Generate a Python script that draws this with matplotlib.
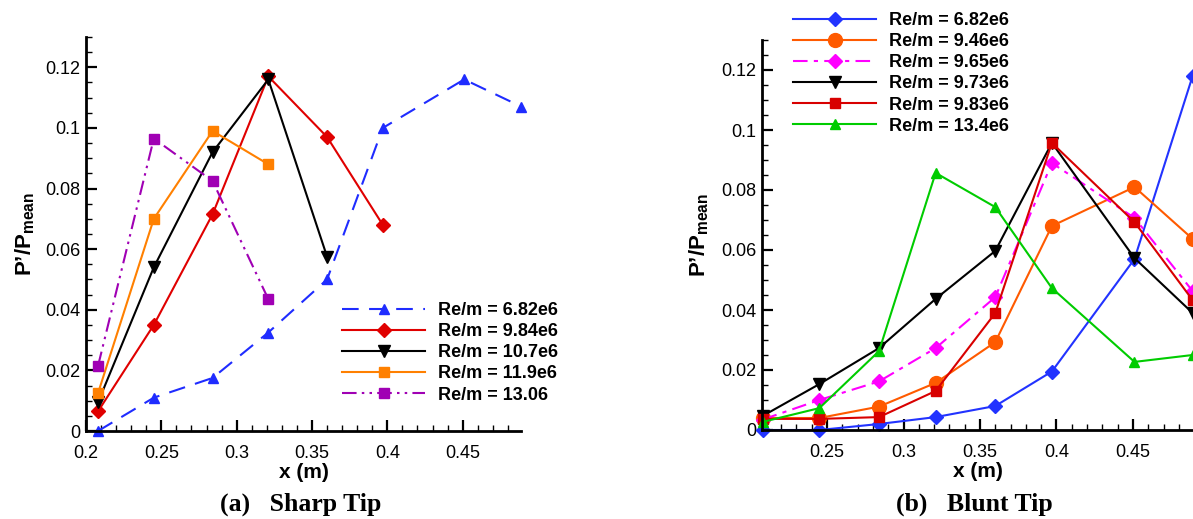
import matplotlib
matplotlib.use("Agg")
import matplotlib.pyplot as plt
from matplotlib.ticker import MultipleLocator, FuncFormatter

plt.rcParams["font.family"] = ["Liberation Sans", "DejaVu Sans"]
plt.rcParams["mathtext.fontset"] = "custom"
plt.rcParams["mathtext.rm"] = "Liberation Sans"
plt.rcParams["mathtext.bf"] = "Liberation Sans:bold"

# Streamwise sensor positions (m)
x_pos = [0.208, 0.245, 0.284, 0.321, 0.36, 0.397, 0.451, 0.489]

# (a) Sharp tip: P'/Pmean per unit Reynolds number
sharp_labels = ["Re/m = 6.82e6", "Re/m = 9.84e6", "Re/m = 10.7e6",
                "Re/m = 11.9e6", "Re/m = 13.06"]
sharp_682 = [0.0, 0.011, 0.0175, 0.0325, 0.05, 0.1, 0.116, 0.107]
sharp_984 = [0.0065, 0.035, 0.0715, 0.117, 0.097, 0.068]
sharp_107 = [0.0095, 0.054, 0.092, 0.116, 0.0575]
sharp_119 = [0.0125, 0.07, 0.099, 0.088]
sharp_1306 = [0.0215, 0.0965, 0.0825, 0.0435]

# (b) Blunt tip
blunt_labels = ["Re/m = 6.82e6", "Re/m = 9.46e6", "Re/m = 9.65e6",
                "Re/m = 9.73e6", "Re/m = 9.83e6", "Re/m = 13.4e6"]
blunt_682 = [0.0, 0.0, 0.002, 0.0043, 0.008, 0.0195, 0.057, 0.118]
blunt_946 = [0.004, 0.004, 0.0078, 0.0157, 0.0293, 0.068, 0.081, 0.0637]
blunt_965 = [0.0035, 0.01, 0.0162, 0.0273, 0.0443, 0.089, 0.0707, 0.0463]
blunt_973 = [0.0047, 0.0153, 0.0273, 0.0437, 0.0597, 0.0957, 0.0573, 0.039]
blunt_983 = [0.0037, 0.0037, 0.0043, 0.013, 0.039, 0.0957, 0.0693, 0.0433]
blunt_134 = [0.0027, 0.0073, 0.0263, 0.0857, 0.0743, 0.0473, 0.0227, 0.025]

W, H = 1193, 519
fig = plt.figure(figsize=(W / 100, H / 100), dpi=100)


def px_axes(left, top, right, bottom):
    return fig.add_axes([left / W, 1 - bottom / H, (right - left) / W, (bottom - top) / H])


def fmt(v, _):
    s = f"{v:.2f}".rstrip("0").rstrip(".")
    return s


def style_axes(ax, xmin, xmax):
    ax.set_xlim(xmin, xmax)
    ax.set_ylim(0, 0.13)
    for side in ("top", "right"):
        ax.spines[side].set_visible(False)
    for side in ("left", "bottom"):
        ax.spines[side].set_linewidth(2)
    ax.xaxis.set_major_locator(MultipleLocator(0.05))
    ax.xaxis.set_minor_locator(MultipleLocator(0.01))
    ax.yaxis.set_major_locator(MultipleLocator(0.02))
    ax.yaxis.set_minor_locator(MultipleLocator(0.005))
    ax.xaxis.set_major_formatter(FuncFormatter(fmt))
    ax.yaxis.set_major_formatter(FuncFormatter(fmt))
    ax.tick_params(which="major", direction="in", length=8, width=1.6,
                   labelsize=13)
    ax.tick_params(axis="x", which="major", pad=10)
    ax.tick_params(axis="y", which="major", pad=4)
    ax.tick_params(which="minor", direction="in", length=4.5, width=1.0)
    ax.set_xlabel("x (m)", fontsize=15, fontweight="bold", labelpad=1)
    ax.set_ylabel(r"P’/P$_{\mathbf{mean}}$", fontsize=16, fontweight="bold")


leg_kw = dict(bbox_transform=fig.transFigure, frameon=False, borderpad=0,
              borderaxespad=0, handlelength=4.6, handletextpad=0.7,
              labelspacing=0.23, loc="upper left",
              prop={"size": 13, "weight": "bold"})

# ---- (a) Sharp tip ----
ax1 = px_axes(86, 37, 521, 431)
style_axes(ax1, 0.2, 0.4887)
ms = 7.5
ax1.plot(x_pos[:len(sharp_682)], sharp_682, color="#1f2cff", lw=1.5,
         ls=(0, (8, 5)), marker="^", ms=ms, clip_on=False, label=sharp_labels[0])
ax1.plot(x_pos[:len(sharp_984)], sharp_984, color="#e00000", lw=1.5,
         marker="D", ms=ms - 0.5, clip_on=False, label=sharp_labels[1])
ax1.plot(x_pos[:len(sharp_107)], sharp_107, color="black", lw=1.5,
         marker="v", ms=ms + 0.5, clip_on=False, label=sharp_labels[2])
ax1.plot(x_pos[:len(sharp_119)], sharp_119, color="#ff8000", lw=1.5,
         marker="s", ms=ms - 0.5, clip_on=False, label=sharp_labels[3])
ax1.plot(x_pos[:len(sharp_1306)], sharp_1306, color="#a000b4", lw=1.5,
         ls=(0, (7, 2.5, 1.2, 2.5, 1.2, 2.5)), marker="s", ms=ms - 0.5,
         clip_on=False, label=sharp_labels[4])
ax1.legend(bbox_to_anchor=(342 / W, 1 - 302 / H), **leg_kw)
ax1.yaxis.set_label_coords(-0.112, 0.5)

# ---- (b) Blunt tip ----
ax2 = px_axes(762, 40, 1194, 430)
style_axes(ax2, 0.2075, 0.4899)
ax2.plot(x_pos, blunt_682, color="#2233ff", lw=1.5, marker="D", ms=ms - 0.5,
         clip_on=False, label=blunt_labels[0])
ax2.plot(x_pos, blunt_946, color="#ff5a00", lw=1.5, marker="o", ms=10,
         clip_on=False, label=blunt_labels[1])
ax2.plot(x_pos, blunt_965, color="#ff00ff", lw=1.5, ls=(0, (7, 3, 2, 3)),
         marker="D", ms=ms - 0.5, clip_on=False, label=blunt_labels[2])
ax2.plot(x_pos, blunt_973, color="black", lw=1.5, marker="v", ms=ms + 0.5,
         clip_on=False, label=blunt_labels[3])
ax2.plot(x_pos, blunt_983, color="#d80000", lw=1.5, marker="s", ms=ms - 0.5,
         clip_on=False, label=blunt_labels[4])
ax2.plot(x_pos, blunt_134, color="#00cc00", lw=1.5, marker="^", ms=ms,
         clip_on=False, label=blunt_labels[5])
ax2.legend(bbox_to_anchor=(793 / W, 1 - 12 / H), **leg_kw)
ax2.yaxis.set_label_coords(-0.118, 0.5)

# Panel captions
cap = dict(fontsize=18.5, fontweight="bold",
           family=["Liberation Serif", "DejaVu Serif"], ha="center", va="center")
fig.text(301 / W, 1 - 504 / H, "(a)   Sharp Tip", **cap)
fig.text(974 / W, 1 - 504 / H, "(b)   Blunt Tip", **cap)

fig.savefig("out.png", dpi=100)
